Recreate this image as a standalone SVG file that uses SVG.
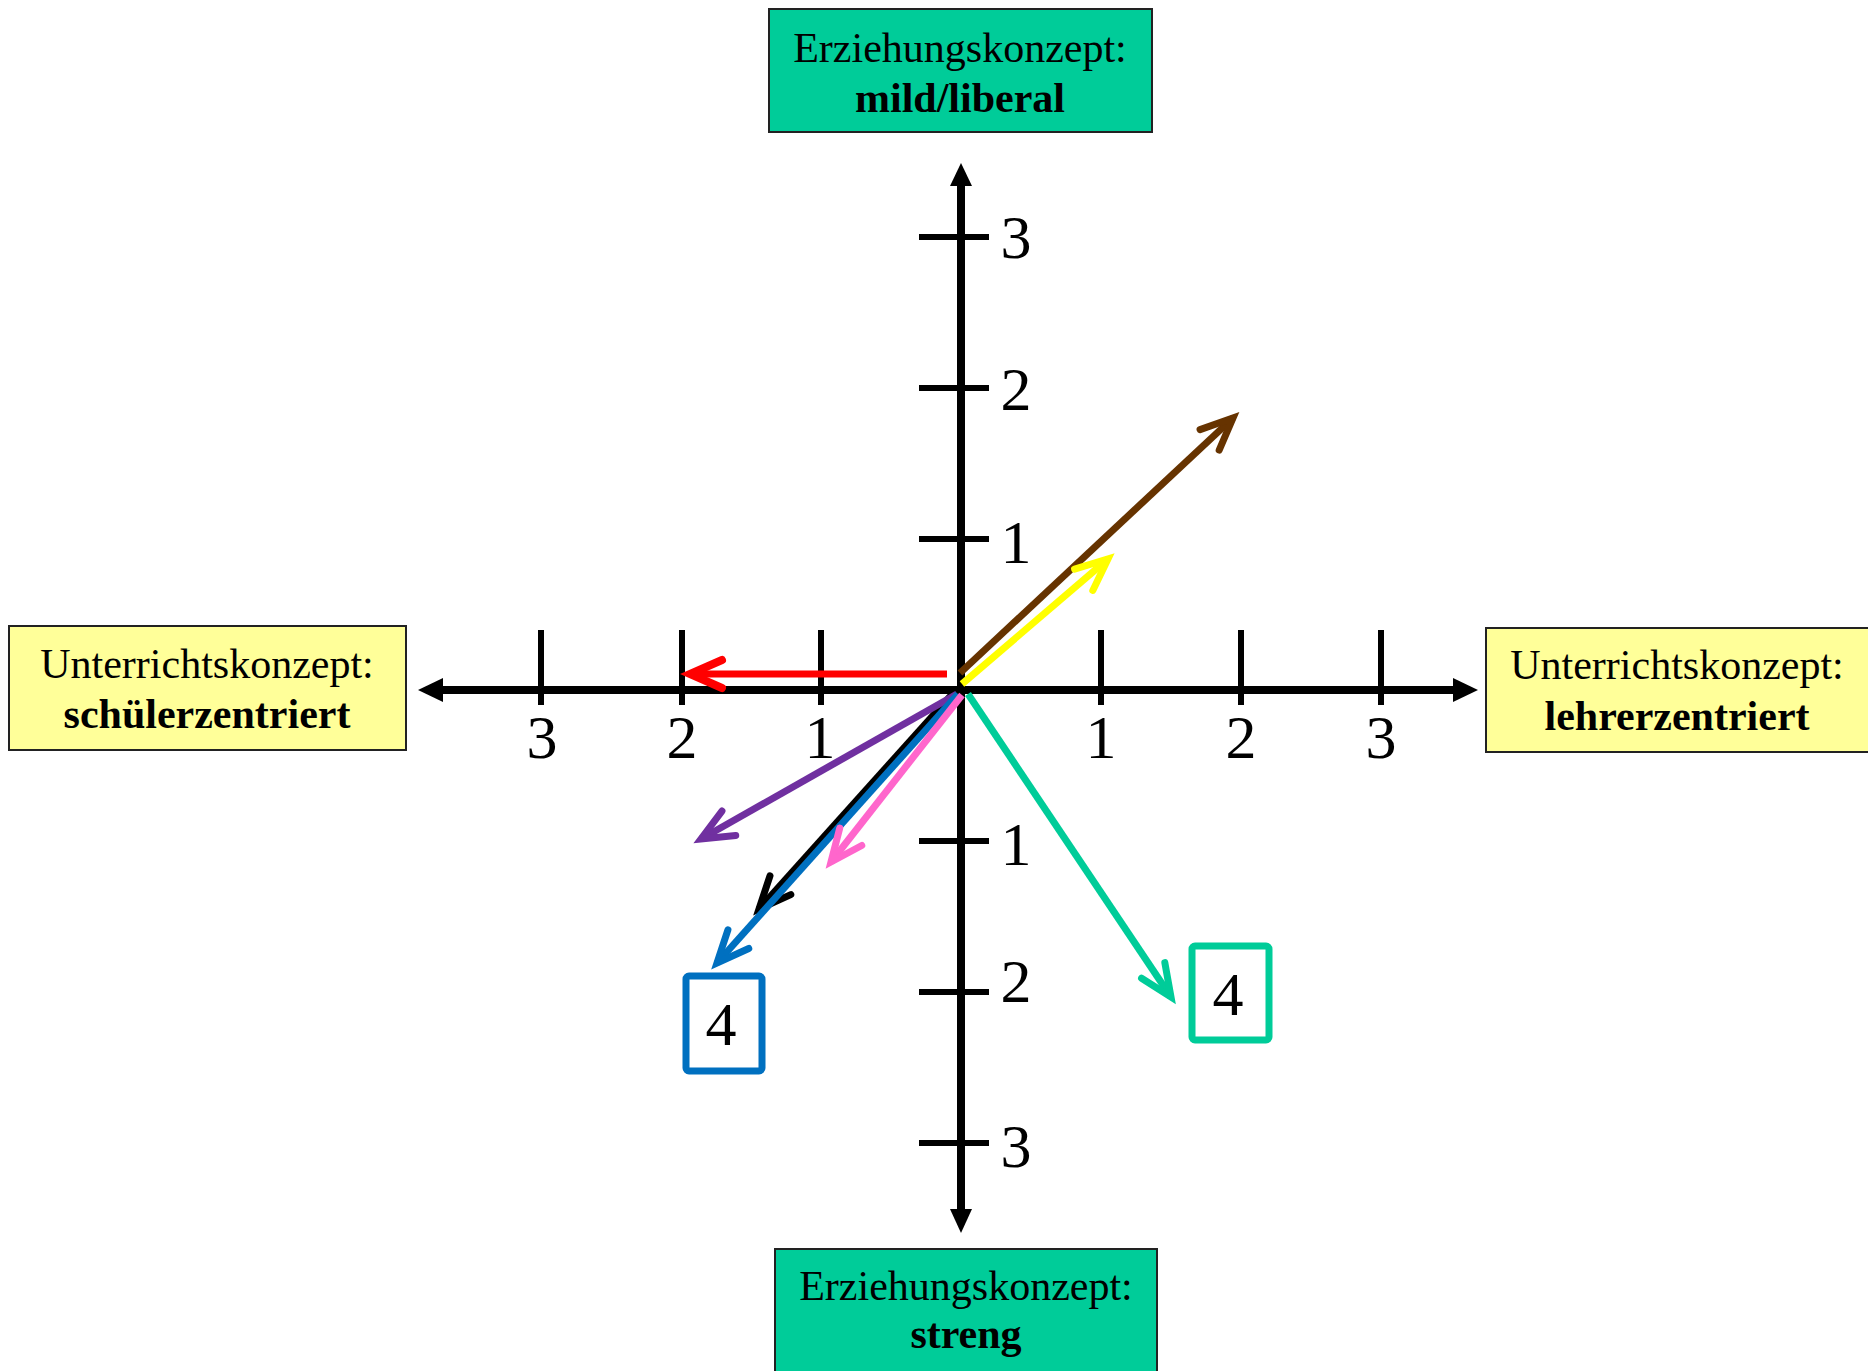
<svg xmlns="http://www.w3.org/2000/svg" width="1868" height="1371" viewBox="0 0 1868 1371">
  <defs>
    <style>
      .box { stroke: #222; stroke-width: 2; }
      .green { fill: #00CC99; }
      .yellowbox { fill: #FFFF99; }
      .lbl { font-family: "Liberation Serif", "Times New Roman", serif; font-size: 42px; fill: #000; text-anchor: middle; }
      .b { font-weight: bold; }
      .num { font-family: "Liberation Serif", "Times New Roman", serif; font-size: 62px; fill: #000; text-anchor: middle; }
      .axis { stroke: #000; stroke-width: 8; fill: none; }
      .tick { stroke: #000; stroke-width: 6; fill: none; }
      .vec { stroke-width: 7; fill: none; stroke-linecap: butt; }
      .tag { fill: #fff; stroke-width: 7; }
    </style>
    <!-- open V arrowheads, one per vector colour -->
    <marker id="hBrown" markerUnits="userSpaceOnUse" orient="auto" refX="0" refY="0" markerWidth="1" markerHeight="1" overflow="visible">
      <path d="M -32 -14 L 0 0 L -32 14" fill="none" stroke="#663300" stroke-width="7" stroke-linecap="round" stroke-linejoin="miter"/>
    </marker>
    <marker id="hYellow" markerUnits="userSpaceOnUse" orient="auto" refX="0" refY="0" markerWidth="1" markerHeight="1" overflow="visible">
      <path d="M -32 -14 L 0 0 L -32 14" fill="none" stroke="#FFFF00" stroke-width="7" stroke-linecap="round" stroke-linejoin="miter"/>
    </marker>
    <marker id="hRed" markerUnits="userSpaceOnUse" orient="auto" refX="0" refY="0" markerWidth="1" markerHeight="1" overflow="visible">
      <path d="M -32 -14 L 0 0 L -32 14" fill="none" stroke="#FF0000" stroke-width="8" stroke-linecap="round" stroke-linejoin="miter"/>
    </marker>
    <marker id="hPurple" markerUnits="userSpaceOnUse" orient="auto" refX="0" refY="0" markerWidth="1" markerHeight="1" overflow="visible">
      <path d="M -32 -14 L 0 0 L -32 14" fill="none" stroke="#7030A0" stroke-width="7" stroke-linecap="round" stroke-linejoin="miter"/>
    </marker>
    <marker id="hBlack" markerUnits="userSpaceOnUse" orient="auto" refX="0" refY="0" markerWidth="1" markerHeight="1" overflow="visible">
      <path d="M -32 -14 L 0 0 L -32 14" fill="none" stroke="#000000" stroke-width="7" stroke-linecap="round" stroke-linejoin="miter"/>
    </marker>
    <marker id="hBlue" markerUnits="userSpaceOnUse" orient="auto" refX="0" refY="0" markerWidth="1" markerHeight="1" overflow="visible">
      <path d="M -32 -14 L 0 0 L -32 14" fill="none" stroke="#0070C0" stroke-width="7" stroke-linecap="round" stroke-linejoin="miter"/>
    </marker>
    <marker id="hPink" markerUnits="userSpaceOnUse" orient="auto" refX="0" refY="0" markerWidth="1" markerHeight="1" overflow="visible">
      <path d="M -32 -14 L 0 0 L -32 14" fill="none" stroke="#FF66CC" stroke-width="7" stroke-linecap="round" stroke-linejoin="miter"/>
    </marker>
    <marker id="hTeal" markerUnits="userSpaceOnUse" orient="auto" refX="0" refY="0" markerWidth="1" markerHeight="1" overflow="visible">
      <path d="M -32 -14 L 0 0 L -32 14" fill="none" stroke="#00CC99" stroke-width="7" stroke-linecap="round" stroke-linejoin="miter"/>
    </marker>
  </defs>

  <rect width="1868" height="1371" fill="#fff"/>

  <!-- coordinate axes -->
  <g id="axes">
    <line class="axis" x1="440" y1="690" x2="1455" y2="690"/>
    <line class="axis" x1="961" y1="183" x2="961" y2="1212"/>
    <polygon points="418,690 443,678 443,702" fill="#000"/>
    <polygon points="1478,690 1453,678 1453,702" fill="#000"/>
    <polygon points="961,163 950,186 972,186" fill="#000"/>
    <polygon points="961,1233 950,1209 972,1209" fill="#000"/>
    <!-- ticks on the horizontal axis -->
    <line class="tick" x1="541" y1="630" x2="541" y2="705"/>
    <line class="tick" x1="682" y1="630" x2="682" y2="705"/>
    <line class="tick" x1="821" y1="630" x2="821" y2="705"/>
    <line class="tick" x1="1101" y1="630" x2="1101" y2="705"/>
    <line class="tick" x1="1241" y1="630" x2="1241" y2="705"/>
    <line class="tick" x1="1381" y1="630" x2="1381" y2="705"/>
    <!-- ticks on the vertical axis -->
    <line class="tick" x1="919" y1="237" x2="989" y2="237"/>
    <line class="tick" x1="919" y1="388" x2="989" y2="388"/>
    <line class="tick" x1="919" y1="539" x2="989" y2="539"/>
    <line class="tick" x1="919" y1="841" x2="989" y2="841"/>
    <line class="tick" x1="919" y1="992" x2="989" y2="992"/>
    <line class="tick" x1="919" y1="1143" x2="989" y2="1143"/>
    <!-- tick labels -->
    <text class="num" x="542" y="758">3</text>
    <text class="num" x="682" y="758">2</text>
    <text class="num" x="820" y="758">1</text>
    <text class="num" x="1101" y="758">1</text>
    <text class="num" x="1241" y="758">2</text>
    <text class="num" x="1381" y="758">3</text>
    <text class="num" x="1016" y="258">3</text>
    <text class="num" x="1016" y="410">2</text>
    <text class="num" x="1016" y="563">1</text>
    <text class="num" x="1016" y="865">1</text>
    <text class="num" x="1016" y="1002">2</text>
    <text class="num" x="1016" y="1167">3</text>
  </g>

  <!-- pole labels -->
  <g id="mild">
    <rect class="box green" x="769" y="9" width="383" height="123"/>
    <text class="lbl" x="960" y="62">Erziehungskonzept:</text>
    <text class="lbl b" x="960" y="112">mild/liberal</text>
  </g>
  <g id="streng">
    <rect class="box green" x="775" y="1249" width="382" height="140"/>
    <text class="lbl" x="966" y="1300">Erziehungskonzept:</text>
    <text class="lbl b" x="966" y="1348">streng</text>
  </g>
  <g id="schuelerzentriert">
    <rect class="box yellowbox" x="9" y="626" width="397" height="124"/>
    <text class="lbl" x="207" y="678">Unterrichtskonzept:</text>
    <text class="lbl b" x="207" y="728">schülerzentriert</text>
  </g>
  <g id="lehrerzentriert">
    <rect class="box yellowbox" x="1486" y="628" width="384" height="124"/>
    <text class="lbl" x="1677" y="679">Unterrichtskonzept:</text>
    <text class="lbl b" x="1677" y="730">lehrerzentriert</text>
  </g>

  <!-- count tags -->
  <g id="tagBlue">
    <rect class="tag" x="686" y="976" width="76" height="95" rx="3" stroke="#0070C0"/>
    <text class="num" x="721" y="1045">4</text>
  </g>
  <g id="tagTeal">
    <rect class="tag" x="1192" y="946" width="77" height="94" rx="3" stroke="#00CC99"/>
    <text class="num" x="1228" y="1015">4</text>
  </g>

  <!-- vectors from the origin -->
  <g id="connectors">
    <line class="vec" x1="955" y1="691" x2="759" y2="909" stroke="#000000" marker-end="url(#hBlack)"/>
    <line class="vec" x1="957" y1="694" x2="701" y2="839" stroke="#7030A0" marker-end="url(#hPurple)"/>
    <line class="vec" x1="958" y1="694" x2="717" y2="963" stroke="#0070C0" marker-end="url(#hBlue)"/>
    <line class="vec" x1="962" y1="695" x2="831" y2="862" stroke="#FF66CC" marker-end="url(#hPink)"/>
    <line class="vec" x1="968" y1="694" x2="1171" y2="997" stroke="#00CC99" marker-end="url(#hTeal)"/>
    <line class="vec" x1="947" y1="674" x2="690" y2="674" stroke="#FF0000" stroke-width="8" marker-end="url(#hRed)"/>
    <line class="vec" x1="960" y1="673" x2="1233" y2="418" stroke="#663300" marker-end="url(#hBrown)"/>
    <line class="vec" x1="962" y1="684" x2="1108" y2="559" stroke="#FFFF00" marker-end="url(#hYellow)"/>
  </g>
</svg>
